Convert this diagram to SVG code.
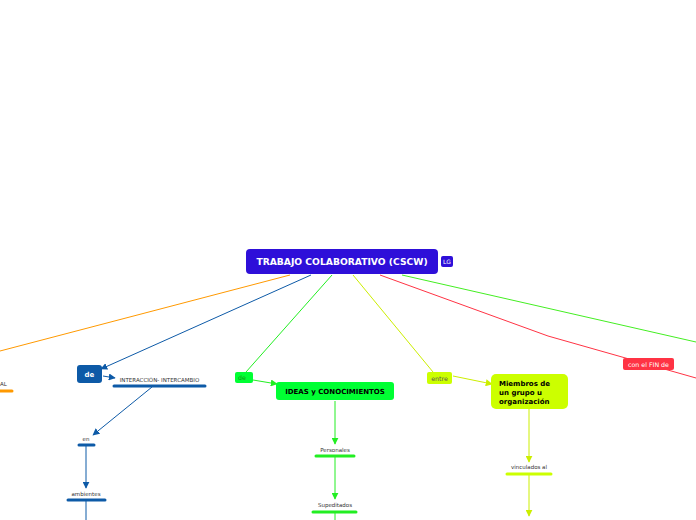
<svg xmlns="http://www.w3.org/2000/svg" width="696" height="520" viewBox="0 0 696 520">
<defs>
<style>
text{font-family:"DejaVu Sans","Verdana",sans-serif}
.c{fill:none;stroke-width:1}
.bar{stroke-width:3;stroke-linecap:round;fill:none}
.lbl{font-size:5.5px;fill:#333;text-anchor:middle}
</style>
<marker id="aB" viewBox="0 0 10 10" refX="9" refY="5" markerWidth="7" markerHeight="7" orient="auto" markerUnits="userSpaceOnUse"><path d="M0,0L10,5L0,10z" fill="#0d5aa7"/></marker>
<marker id="aG" viewBox="0 0 10 10" refX="9" refY="5" markerWidth="7" markerHeight="7" orient="auto" markerUnits="userSpaceOnUse"><path d="M0,0L10,5L0,10z" fill="#22ee22"/></marker>
<marker id="aY" viewBox="0 0 10 10" refX="9" refY="5" markerWidth="7" markerHeight="7" orient="auto" markerUnits="userSpaceOnUse"><path d="M0,0L10,5L0,10z" fill="#ccee00"/></marker>
</defs>
<rect width="696" height="520" fill="#fff"/>
<g id="connectors">
<line class="c" x1="290" y1="275" x2="0" y2="351" stroke="#ff9900"/>
<line class="c" x1="311" y1="275" x2="101" y2="369" stroke="#0d5aa7" marker-end="url(#aB)"/>
<line class="c" x1="103" y1="376" x2="115" y2="378" stroke="#0d5aa7" marker-end="url(#aB)"/>
<line class="c" x1="152" y1="387" x2="93" y2="435" stroke="#0d5aa7" marker-end="url(#aB)"/>
<line class="c" x1="86" y1="446" x2="86" y2="488" stroke="#0d5aa7" marker-end="url(#aB)"/>
<line class="c" x1="86" y1="501" x2="86" y2="520" stroke="#0d5aa7"/>
<line class="c" x1="332" y1="275" x2="246" y2="372" stroke="#22ee22"/>
<line class="c" x1="253" y1="380" x2="277" y2="384" stroke="#22ee22" marker-end="url(#aG)"/>
<line class="c" x1="335" y1="401" x2="335" y2="444" stroke="#22ee22" marker-end="url(#aG)"/>
<line class="c" x1="335" y1="457" x2="335" y2="499" stroke="#22ee22" marker-end="url(#aG)"/>
<line class="c" x1="335" y1="513" x2="335" y2="520" stroke="#22ee22"/>
<line class="c" x1="353" y1="275" x2="433" y2="372" stroke="#ccee00"/>
<line class="c" x1="453" y1="376" x2="492" y2="384" stroke="#ccee00" marker-end="url(#aY)"/>
<line class="c" x1="529" y1="409" x2="529" y2="462" stroke="#ccee00" marker-end="url(#aY)"/>
<line class="c" x1="529" y1="475" x2="529" y2="516" stroke="#ccee00" marker-end="url(#aY)"/>
<polyline class="c" points="380,275 548,336 696,378" stroke="#ff3344"/>
<line class="c" x1="402" y1="275" x2="696" y2="342" stroke="#44ee22"/>
</g>
<g id="main">
<rect x="246" y="249" width="192" height="25" rx="4" fill="#2e0fd9"/>
<text x="342" y="265" font-size="9.2" font-weight="bold" fill="#fff" text-anchor="middle">TRABAJO COLABORATIVO (CSCW)</text>
<rect x="441" y="256" width="12" height="11" rx="2" fill="#2e0fd9"/>
<text x="447" y="264" font-size="6" fill="#fff" text-anchor="middle">LG</text>
</g>
<g id="orange-node">
<text x="0" y="386" font-size="5.5" fill="#333">AL</text>
<line class="bar" x1="-2" y1="391" x2="12" y2="391" stroke="#ff9900"/>
</g>
<g id="de-blue">
<rect x="77" y="365" width="25" height="18" rx="3" fill="#0d5aa7"/>
<text x="89.5" y="377" font-size="7" font-weight="bold" fill="#fff" text-anchor="middle">de</text>
</g>
<g id="interaccion">
<text x="159.5" y="382" class="lbl" font-size="5.7">INTERACCIÓN- INTERCAMBIO</text>
<line class="bar" x1="114" y1="386" x2="205" y2="386" stroke="#0d5aa7"/>
</g>
<g id="en">
<text x="86" y="441" class="lbl">en</text>
<line class="bar" x1="79" y1="445" x2="94" y2="445" stroke="#0d5aa7"/>
</g>
<g id="ambientes">
<text x="86" y="496" class="lbl">ambientes</text>
<line class="bar" x1="68" y1="500" x2="105" y2="500" stroke="#0d5aa7"/>
</g>
<g id="de-green">
<rect x="235" y="372" width="18" height="11" rx="2" fill="#00ff33"/>
<text x="242" y="380" font-size="6.3" fill="#119911" text-anchor="middle">de</text>
</g>
<g id="ideas">
<rect x="276" y="382" width="118" height="18" rx="3" fill="#00ff33"/>
<text x="335" y="394" font-size="7" font-weight="bold" fill="#000" text-anchor="middle">IDEAS y CONOCIMIENTOS</text>
</g>
<g id="personales">
<text x="335" y="452" class="lbl">Personales</text>
<line class="bar" x1="316" y1="456" x2="354" y2="456" stroke="#22ee22"/>
</g>
<g id="supeditados">
<text x="335" y="507" class="lbl">Supeditados</text>
<line class="bar" x1="313" y1="512" x2="356" y2="512" stroke="#22ee22"/>
</g>
<g id="entre">
<rect x="427" y="372" width="25" height="12" rx="2" fill="#ccff00"/>
<text x="439.5" y="381" font-size="6.3" fill="#555" text-anchor="middle">entre</text>
</g>
<g id="miembros">
<rect x="491" y="374" width="77" height="35" rx="5" fill="#ccff00"/>
<text font-size="7" font-weight="bold" fill="#000"><tspan x="499" y="386">Miembros de</tspan><tspan x="499" y="395">un grupo  u</tspan><tspan x="499" y="404">organización</tspan></text>
</g>
<g id="vinculados">
<text x="529" y="469" class="lbl">vinculados al</text>
<line class="bar" x1="507" y1="474" x2="551" y2="474" stroke="#ccff00"/>
</g>
<g id="fin">
<rect x="623" y="358" width="51" height="12" rx="2" fill="#ff3344"/>
<text x="648.5" y="366.5" font-size="6.3" fill="#fff" text-anchor="middle">con el FIN de</text>
</g>
</svg>
